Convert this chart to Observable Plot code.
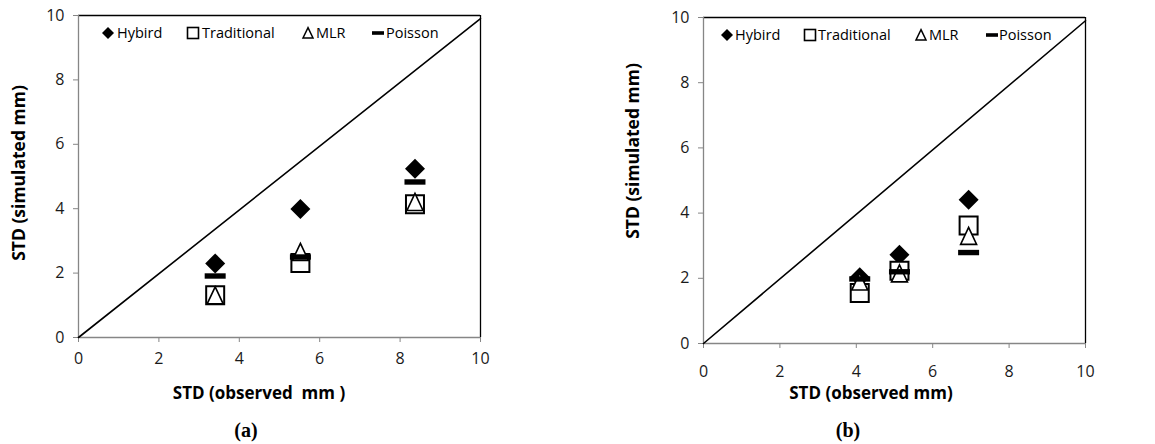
<!DOCTYPE html>
<html><head><meta charset="utf-8">
<script src="https://cdn.jsdelivr.net/npm/d3@7"></script>
<script src="https://cdn.jsdelivr.net/npm/@observablehq/plot@0.6"></script>
<style>
html,body{margin:0;padding:0;background:#fff;}
#wrap{position:relative;width:1155px;height:444px;overflow:hidden;font-family:"Open Sans",sans-serif;color:#000;}
.panel{position:absolute;top:0;}
.panel svg text{font-family:"Open Sans",sans-serif !important;font-size:16px !important;fill:#1a1a1a;}
.title{position:absolute;font-weight:bold;font-size:17px;white-space:pre;transform:translate(-50%,-50%);}
.ytitle{position:absolute;font-weight:bold;font-size:17.5px;white-space:pre;transform:translate(-50%,-50%) rotate(-90deg);}
.cap{position:absolute;font-family:"Liberation Serif",serif;font-weight:bold;font-size:20px;transform:translate(-50%,-50%);}
.lg{position:absolute;font-size:14.5px;line-height:1;transform:translateY(-50%);white-space:pre;}
.lgs{position:absolute;transform:translate(-50%,-50%);line-height:0;}
</style></head>
<body><div id="wrap"></div>
<script>
// ---- data ----
const seriesNames = ["Hybird", "Traditional", "MLR", "Poisson"];
const ticks = [0, 2, 4, 6, 8, 10];
const diagonalX = [0, 10];
const diagonalY = [0, 9.9];

const observedA = [3.40, 5.52, 8.37];
const hybridA = [2.30, 3.99, 5.24];
const traditionalA = [1.31, 2.31, 4.14];
const mlrA = [1.31, 2.66, 4.21];
const poissonA = [1.91, 2.50, 4.83];

const observedB = [4.09, 5.13, 6.94];
const hybridB = [2.03, 2.72, 4.41];
const traditionalB = [1.55, 2.23, 3.62];
const mlrB = [1.90, 2.15, 3.30];
const poissonB = [1.98, 2.20, 2.79];

const xTitles = ["STD (observed  mm )", "STD (observed mm)"];
const yTitle = "STD (simulated mm)";
const captions = ["(a)", "(b)"];

// ---- symbols ----
const symDiamond = {draw(c){c.moveTo(0,-10);c.lineTo(10,0);c.lineTo(0,10);c.lineTo(-10,0);c.closePath();}};
const symSquare = {draw(c){c.rect(-9,-9,18,18);}};
const symTriangle = {draw(c){c.moveTo(0,-8.5);c.lineTo(8,8.5);c.lineTo(-8,8.5);c.closePath();}};
const symBar = {draw(c){c.rect(-10.5,-2.7,21,5.4);}};

const wrap = document.getElementById("wrap");
const GRAY = "#868686";

function makePanel(obs, hyb, trad, mlr, poi, cfg) {
  const rows = obs.map((x, i) => ({x, hyb: hyb[i], trad: trad[i], mlr: mlr[i], poi: poi[i]}));
  const diag = diagonalX.map((x, i) => ({x, y: diagonalY[i]}));
  const p = Plot.plot({
    width: cfg.width, height: cfg.height,
    marginLeft: cfg.ml, marginRight: cfg.mr, marginTop: cfg.mt, marginBottom: cfg.mb,
    style: {fontFamily: "'Open Sans', sans-serif", fontSize: "16px", color: "#1a1a1a", background: "transparent"},
    x: {domain: [0, 10]},
    y: {domain: [0, 10]},
    marks: [
      Plot.ruleX([10], {stroke: "black", strokeWidth: 1.3}),
      Plot.ruleY([10], {stroke: "black", strokeWidth: 1.3}),
      Plot.ruleX([0], {stroke: GRAY, strokeWidth: 1.3}),
      Plot.ruleY([0], {stroke: GRAY, strokeWidth: 1.3}),
      Plot.axisX({ticks, tickSize: 5, tickPadding: cfg.xpad, stroke: GRAY, label: null}),
      Plot.axisY({ticks, tickSize: 5, tickPadding: 9, stroke: GRAY, label: null}),
      Plot.line(diag, {x: "x", y: "y", stroke: "black", strokeWidth: 1.6}),
      Plot.dot(rows, {x: "x", y: "hyb", symbol: symDiamond, fill: "black", stroke: "none", r: 5}),
      Plot.dot(rows, {x: "x", y: "trad", symbol: symSquare, fill: "white", stroke: "black", strokeWidth: 2, r: 5}),
      Plot.dot(rows, {x: "x", y: "mlr", symbol: symTriangle, fill: "white", stroke: "black", strokeWidth: 1.6, r: 5}),
      Plot.dot(rows, {x: "x", y: "poi", symbol: symBar, fill: "black", stroke: "none", r: 5})
    ]
  });
  const div = document.createElement("div");
  div.className = "panel";
  div.style.left = cfg.left + "px";
  div.appendChild(p);
  wrap.appendChild(div);

  // legend
  const glyphs = [
    '<svg width="13" height="13" viewBox="-6.5 -6.5 13 13"><path d="M0,-6L6,0L0,6L-6,0Z" fill="black"/></svg>',
    '<svg width="14" height="14" viewBox="-7 -7 14 14"><rect x="-5.5" y="-5.5" width="11" height="11" fill="white" stroke="black" stroke-width="1.6"/></svg>',
    '<svg width="14" height="14" viewBox="-7 -7 14 14"><path d="M0,-5.3L5,5L-5,5Z" fill="white" stroke="black" stroke-width="1.5"/></svg>',
    '<svg width="14" height="14" viewBox="-7 -7 14 14"><rect x="-6" y="-1.8" width="12" height="3.6" fill="black"/></svg>'
  ];
  seriesNames.forEach((name, i) => {
    const s = document.createElement("div");
    s.className = "lgs";
    s.style.left = cfg.legSym[i] + "px";
    s.style.top = cfg.legY + "px";
    s.innerHTML = glyphs[i];
    wrap.appendChild(s);
    const t = document.createElement("div");
    t.className = "lg";
    t.style.left = cfg.legText[i] + "px";
    t.style.top = cfg.legY + "px";
    t.textContent = name;
    wrap.appendChild(t);
  });

  const xt = document.createElement("div");
  xt.className = "title"; xt.textContent = cfg.xTitle;
  xt.style.left = cfg.xtX + "px"; xt.style.top = cfg.xtY + "px";
  wrap.appendChild(xt);
  const yt = document.createElement("div");
  yt.className = "ytitle"; yt.textContent = yTitle;
  yt.style.left = cfg.ytX + "px"; yt.style.top = cfg.ytY + "px";
  wrap.appendChild(yt);
  const cp = document.createElement("div");
  cp.className = "cap"; cp.textContent = cfg.caption;
  cp.style.left = cfg.capX + "px"; cp.style.top = "430px";
  wrap.appendChild(cp);
}

makePanel(observedA, hybridA, traditionalA, mlrA, poissonA, {
  left: 0, width: 560, height: 410, ml: 78, mr: 80, mt: 15, mb: 73, xpad: 10,
  legY: 33, legSym: [108, 193, 308, 378], legText: [117, 202, 316, 386],
  xTitle: xTitles[0], xtX: 259, xtY: 392, ytX: 18, ytY: 173, caption: captions[0], capX: 246
});
makePanel(observedB, hybridB, traditionalB, mlrB, poissonB, {
  left: 580, width: 575, height: 410, ml: 123, mr: 70, mt: 17, mb: 67, xpad: 17,
  legY: 35, legSym: [727, 810, 921, 992], legText: [735, 818, 929, 999],
  xTitle: xTitles[1], xtX: 871, xtY: 392, ytX: 632, ytY: 151, caption: captions[1], capX: 848
});
</script>
</body></html>
